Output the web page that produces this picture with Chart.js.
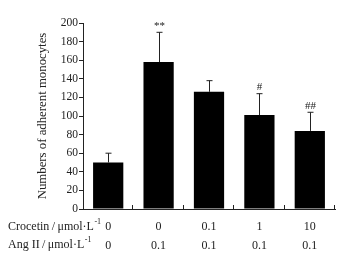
<!DOCTYPE html>
<html>
<head>
<meta charset="utf-8">
<script src="https://cdn.jsdelivr.net/npm/chart.js@4"></script>
<style>
  html, body { margin: 0; padding: 0; background: #fff; }
  #wrap { width: 342px; height: 255px; }
</style>
</head>
<body>
<div id="wrap"><canvas id="c" width="342" height="255"></canvas></div>
<script>
// values
const crocetin = ['0', '0', '0.1', '1', '10'];
const angII = ['0', '0.1', '0.1', '0.1', '0.1'];
const means = [50, 158, 126, 101, 84];
const errUp = [10, 32, 12, 23, 20];
const marks = ['', '**', '', '#', '##'];
const yTicks = [0, 20, 40, 60, 80, 100, 120, 140, 160, 180, 200];
const rowNames = ['Crocetin', 'Ang II'];

const labels = crocetin.map((c, i) => [c, angII[i]]);
const serif = '"Liberation Serif", "DejaVu Serif", serif';
const ink = '#222';

// error bars, significance marks, inside x ticks, row headers
const extras = {
    id: 'extras',
    afterDatasetsDraw(chart) {
        const ctx = chart.ctx;
        const x = chart.scales.x, y = chart.scales.y;
        ctx.save();
        ctx.strokeStyle = ink;
        ctx.fillStyle = ink;
        ctx.lineWidth = 1;
        means.forEach((m, i) => {
            const px = Math.round(x.getPixelForValue(i)) + 0.5;
            const top = y.getPixelForValue(m + errUp[i]);
            const base = y.getPixelForValue(m);
            ctx.beginPath();
            ctx.moveTo(px, base);
            ctx.lineTo(px, top);
            ctx.moveTo(px - 3, top);
            ctx.lineTo(px + 3, top);
            ctx.stroke();
            if (marks[i]) {
                ctx.font = '11px ' + serif;
                ctx.textAlign = 'center';
                ctx.textBaseline = 'bottom';
                ctx.fillText(marks[i], px, top - 1);
            }
        });
        // small ticks at category boundaries, pointing up
        const bottom = chart.chartArea.bottom;
        for (let i = 0; i < means.length; i++) {
            const bx = Math.round(x.getPixelForValue(i + 0.5)) - 0.5;
            ctx.beginPath();
            ctx.moveTo(bx, bottom);
            ctx.lineTo(bx, bottom - 4);
            ctx.stroke();
        }
        // row headers
        ctx.textAlign = 'left';
        ctx.textBaseline = 'middle';
        const rows = [227, 245];
        rowNames.forEach((name, r) => {
            let cx = 8;
            ctx.font = '12px ' + serif;
            const t = name + '\u2009/\u2009\u03bcmol\u00b7L';
            ctx.fillText(t, cx, rows[r]);
            cx += ctx.measureText(t).width;
            ctx.font = '8px ' + serif;
            ctx.fillText('-1', cx + 0.5, rows[r] - 5);
        });
        ctx.restore();
    }
};

new Chart(document.getElementById('c'), {
    type: 'bar',
    data: {
        labels: labels,
        datasets: [{
            data: means,
            backgroundColor: '#000',
            borderWidth: 0,
            categoryPercentage: 1,
            barPercentage: 0.6
        }]
    },
    options: {
        responsive: false,
        animation: false,
        layout: { padding: { top: 23, right: 7, left: 35, bottom: 0 } },
        plugins: { legend: { display: false }, tooltip: { enabled: false } },
        scales: {
            x: {
                grid: { display: false, drawTicks: false },
                border: { color: ink, width: 1 },
                ticks: {
                    color: ink,
                    padding: 9,
                    font: { family: serif, size: 12, lineHeight: 1.55 },
                    maxRotation: 0,
                    autoSkip: false
                },
                afterFit(s) { s.height = 46; }
            },
            y: {
                min: 0,
                max: 200,
                afterBuildTicks(s) { s.ticks = yTicks.map(v => ({ value: v })); },
                grid: { drawOnChartArea: false, tickLength: 4, color: ink },
                border: { color: ink, width: 1 },
                ticks: {
                    color: ink,
                    padding: 1,
                    font: { family: serif, size: 11.5 }
                },
                title: {
                    display: true,
                    text: 'Numbers of adherent monocytes',
                    color: ink,
                    padding: { top: 0, bottom: 2 },
                    font: { family: serif, size: 12.8 }
                },
                afterFit(s) { s.width = 48; }
            }
        }
    },
    plugins: [extras]
});
</script>
</body>
</html>
